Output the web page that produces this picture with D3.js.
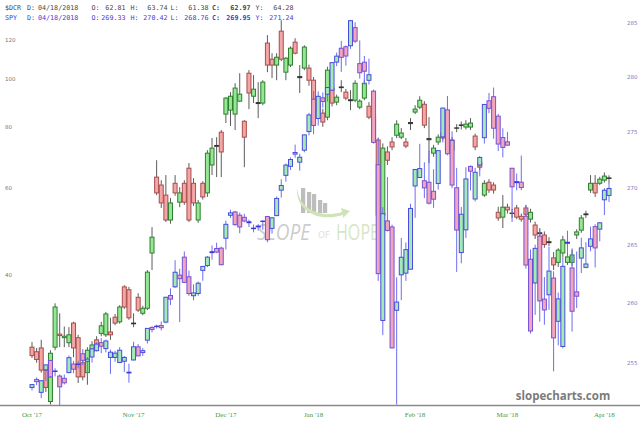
<!DOCTYPE html>
<html>
<head>
<meta charset="utf-8">
<script src="https://cdn.jsdelivr.net/npm/d3@7"></script>
<style>
  body { margin: 0; background: #fff; }
  svg { display: block; }
</style>
</head>
<body>
<svg id="chart" width="640" height="425"></svg>
<script>
const svg = d3.select("#chart");
const width = 640;
const height = 425;

// trading days shown (SPY calendar)
const months = [
  ["2017-10", [17,18,19,20,23,24,25,26,27,30,31]],
  ["2017-11", [1,2,3,6,7,8,9,10,13,14,15,16,17,20,21,22,24,27,28,29,30]],
  ["2017-12", [1,4,5,6,7,8,11,12,13,14,15,18,19,20,21,22,26,27,28,29]],
  ["2018-01", [2,3,4,5,8,9,10,11,12,16,17,18,19,22,23,24,25,26,29,30,31]],
  ["2018-02", [1,2,5,6,7,8,9,12,13,14,15,16,20,21,22,23,26,27,28]],
  ["2018-03", [1,2,5,6,7,8,9,12,13,14,15,16,19,20,21,22,23,26,27,28,29]],
  ["2018-04", [2,3,4,5,6,9,10,11,12,13,16,17,18]]
];
const dates = [];
months.forEach(([m, ds]) => ds.forEach(d => dates.push(m + "-" + String(d).padStart(2, "0"))));

const tickDates = ["2017-10-17","2017-11-16","2017-12-15","2018-01-16","2018-02-15","2018-03-16","2018-04-17"];
const tickLabels = ["Oct '17","Nov '17","Dec '17","Jan '18","Feb '18","Mar '18","Apr '18"];

const leftTicks = [40, 60, 80, 100, 120];
const rightTicks = [255, 260, 265, 270, 275, 280, 285];

// $DCR daily candles
const dcrOpen = [28.5,27.9,28.4,25.6,22.1,28.5,30.3,29.8,29.1,31.9,29.8,26.5,25.3,27.9,29.5,30.4,30.2,30.6,32.8,32.1,
  37.8,37.3,31.8,36.0,33.4,34.2,44.3,63.2,60.9,58.1,51.7,61.4,56.2,61.4,65.9,61.4,51.7,61.4,58.7,66.9,
  73.0,78.0,84.9,86.5,84.9,90.2,82.1,102.8,92.3,89.6,89.4,118.4,109.8,106.8,125.2,103.3,106.8,118.9,101.2,105.3,
  105.3,99.5,90.6,85.3,83.7,95.9,89.8,96.4,94.1,90.8,90.6,87.7,91.5,88.1,83.7,75.2,52.9,71.1,74.5,76.9,
  76.2,74.5,81.2,85.7,87.7,88.9,75.7,70.7,74.5,77.7,75.9,71.7,79.5,80.7,79.9,79.9,76.6,67.7,58.1,61.7,
  60.9,53.6,52.4,54.9,53.4,54.7,52.6,54.7,51.9,50.5,48.7,48.2,46.7,43.3,42.4,44.3,42.4,42.4,48.2,49.3,
  53.0,59.5,61.4,61.4,62.3,62.81];
const dcrHigh = [29.2,28.4,29.5,25.9,28.1,35.0,33.4,31.4,31.3,32.1,30.2,27.1,28.5,29.3,30.0,32.1,33.6,32.7,33.3,34.7,
  38.1,37.8,33.4,36.7,34.6,40.9,50.0,68.4,62.3,63.8,57.3,63.8,60.3,62.3,67.5,62.9,56.8,62.0,71.7,75.9,
  76.2,78.8,91.9,94.1,98.1,102.8,82.5,104.3,101.9,98.6,99.5,122.9,112.9,112.9,131.8,110.8,116.6,121.1,106.8,117.2,
  107.0,101.0,92.0,87.0,106.0,98.0,93.0,99.5,95.5,95.0,99.5,91.0,99.8,89.8,84.5,76.0,74.0,73.0,76.2,82.5,
  79.5,75.9,83.3,88.5,92.3,90.2,83.7,73.5,77.2,78.8,77.0,76.2,81.0,82.0,82.5,83.3,77.5,69.0,62.3,62.6,
  61.7,55.0,58.1,55.8,54.5,55.5,53.3,55.5,54.5,51.3,49.8,49.0,47.7,44.5,45.3,48.0,44.3,45.0,49.5,52.9,
  54.0,63.8,63.8,63.3,64.6,63.74];
const dcrLow = [27.1,26.5,25.3,23.1,21.8,28.1,28.5,28.5,28.5,27.2,24.1,24.4,23.9,27.5,28.1,30.0,29.9,29.5,31.6,31.8,
  34.1,32.4,31.3,33.6,33.1,33.9,40.9,58.1,54.7,51.2,50.8,57.9,54.9,55.5,51.2,55.2,51.0,56.9,57.6,63.8,
  63.2,63.2,81.4,80.3,78.8,89.8,66.2,86.9,89.4,83.3,88.5,103.3,100.5,99.5,108.8,99.5,105.8,112.3,93.7,104.3,
  97.0,88.0,84.0,80.0,82.5,88.0,88.5,94.1,90.6,86.5,89.8,86.9,90.6,82.9,74.0,51.5,50.5,66.9,71.7,75.9,
  75.5,72.4,78.8,84.9,86.9,79.5,67.5,69.5,73.5,75.2,70.7,70.4,78.0,79.0,79.0,78.8,71.7,65.3,57.6,58.7,
  58.5,51.5,49.8,53.3,52.2,51.9,51.3,52.4,51.1,47.3,47.7,45.4,45.8,40.9,41.5,43.5,41.9,41.7,47.3,48.7,
  52.2,58.7,57.6,60.9,61.6,61.38];
const dcrClose = [27.4,26.9,25.6,23.6,27.7,34.4,30.1,30.0,30.2,28.4,24.8,24.8,28.1,28.8,28.5,31.5,33.3,30.2,31.9,34.4,
  34.4,32.7,31.9,33.9,34.2,40.5,47.7,58.7,56.0,51.7,56.0,58.7,58.7,56.2,51.7,56.0,56.0,57.6,70.7,72.4,
  73.3,71.1,91.5,92.3,95.9,93.2,76.2,93.7,95.4,89.2,98.6,106.8,106.8,110.8,109.8,110.3,115.6,112.9,100.7,116.2,
  99.5,90.6,85.7,81.8,104.3,89.4,91.9,96.1,91.5,90.4,98.1,90.2,98.1,83.7,75.2,52.9,72.4,68.4,72.8,81.0,
  77.7,73.1,81.6,86.9,90.6,80.6,75.3,72.4,76.2,75.9,71.7,75.2,79.6,80.5,81.0,81.4,72.8,66.2,61.4,59.5,
  59.5,52.2,54.9,54.2,53.3,52.4,51.9,53.1,53.6,48.2,48.5,46.1,46.5,41.9,44.9,47.1,43.5,43.9,48.9,52.2,
  53.2,61.4,58.7,62.6,63.5,62.97];

// SPY daily candles
const spyOpen = [252.93,253.60,252.53,254.40,255.18,254.30,253.88,253.69,254.17,254.88,254.88,255.74,255.11,255.47,256.00,256.67,256.17,255.43,255.43,255.01,
  255.11,254.20,255.22,256.32,255.84,256.88,257.95,258.02,258.11,258.40,260.66,261.40,262.40,263.95,262.26,260.64,260.83,262.81,263.22,264.34,
  264.70,264.73,265.59,267.59,267.88,267.60,267.41,267.02,266.47,266.65,267.08,267.48,266.44,267.56,269.80,271.11,271.91,273.00,272.28,273.35,
  275.02,277.95,276.20,278.07,278.40,278.77,281.34,282.62,282.76,282.85,284.53,281.20,281.33,279.67,278.68,272.05,258.54,267.10,266.57,259.40,
  262.43,262.57,262.91,270.17,270.92,270.63,270.50,269.70,270.39,274.54,276.98,274.22,270.01,264.35,266.32,271.90,269.02,272.03,274.47,277.80,
  278.17,276.41,274.48,274.10,271.74,270.46,270.50,267.51,263.77,261.73,265.77,260.35,260.72,262.15,258.47,256.35,265.15,263.02,260.97,263.87,
  263.07,264.89,266.60,266.38,268.95,269.33];
const spyHigh = [253.22,253.76,253.53,254.84,255.21,254.53,254.01,254.00,255.59,255.14,255.14,256.13,255.45,256.20,256.70,257.05,256.92,256.09,255.99,256.29,
  255.55,254.91,256.74,256.55,256.22,257.90,258.05,258.18,258.45,260.54,261.27,263.69,262.95,264.44,262.79,261.62,261.86,263.16,264.04,264.96,
  265.20,264.86,267.12,268.07,267.98,267.83,267.72,267.20,266.78,266.81,267.15,267.50,267.41,269.24,270.76,272.16,272.70,273.85,273.02,274.72,
  276.71,278.69,278.65,278.56,279.01,281.29,282.22,283.30,282.87,285.23,285.03,283.34,281.90,281.66,278.83,274.45,268.30,270.96,266.77,262.21,
  265.61,265.22,268.60,271.64,273.92,272.27,273.32,271.65,273.31,277.17,278.24,275.04,271.77,268.32,271.83,271.99,271.78,272.84,277.47,278.51,
  279.01,276.62,275.31,274.99,271.74,271.27,272.87,268.47,264.62,265.03,266.37,262.24,264.86,262.73,260.91,263.96,266.24,264.71,264.44,265.64,
  265.24,266.60,266.80,267.00,269.98,270.42];
const spyLow = [252.68,253.13,252.05,253.47,253.72,253.85,251.44,253.18,254.11,254.11,254.51,254.77,253.89,255.00,255.92,255.79,255.85,254.06,255.07,254.97,
  254.22,253.33,255.19,255.53,255.56,256.60,257.54,257.86,257.70,258.30,259.84,261.31,258.40,261.72,260.63,260.25,260.63,261.92,263.09,263.73,
  264.29,263.24,264.61,267.35,266.68,266.02,266.98,266.57,266.10,266.24,266.32,265.24,266.00,267.56,269.14,270.55,271.58,272.68,271.52,273.16,
  274.68,274.78,275.57,277.18,277.74,278.71,280.97,280.44,281.01,282.56,283.10,279.82,279.28,279.28,274.01,261.91,257.30,266.18,256.19,251.52,
  260.26,261.91,262.90,267.37,270.87,269.10,268.54,268.24,269.85,274.04,272.89,269.97,262.68,263.42,265.62,269.78,268.80,271.02,273.94,276.68,
  274.37,273.27,272.70,273.74,267.00,269.78,269.79,262.96,257.43,259.01,258.44,258.18,259.44,254.27,256.44,256.20,263.92,257.60,259.59,262.58,
  262.99,264.46,263.06,265.32,267.60,268.76];
const spyClose = [253.17,253.42,253.49,254.81,253.81,254.26,252.99,253.32,255.41,254.45,254.85,255.19,255.29,256.15,256.55,256.37,256.81,255.87,255.79,256.03,
  255.43,254.14,256.32,255.56,256.00,257.87,257.77,258.06,257.93,260.51,260.35,262.65,262.10,261.78,260.83,260.88,261.71,263.15,263.95,264.42,
  264.39,263.30,266.80,267.80,266.77,266.57,267.09,266.94,266.42,266.58,267.07,265.46,267.37,269.07,270.21,272.02,272.52,273.14,272.72,274.72,
  276.52,275.57,278.21,277.74,279.01,281.29,281.89,281.78,281.90,285.18,283.28,280.36,280.50,280.18,274.05,262.53,267.73,266.27,256.23,260.10,
  263.94,264.60,268.19,271.63,271.71,270.00,268.65,269.00,273.31,277.14,273.03,270.25,266.30,267.68,270.79,271.48,271.38,272.70,277.47,277.12,
  275.32,273.90,273.60,273.80,270.09,270.55,270.03,263.27,257.65,264.71,260.20,259.43,262.75,257.07,260.37,263.16,265.24,259.32,260.60,264.75,
  263.36,265.53,264.75,266.93,269.79,269.95];

const x = d3.scalePoint().domain(dates).range([32, 609]);
const yL = d3.scaleLog().domain([40, 120]).range([274.8, 40.2]);
const yR = d3.scaleLog().domain([255, 285]).range([362.6, 22.6]);

// watermark
const wm = svg.append("g").attr("class", "watermark");
const bars = [[301, 188], [307, 192], [312, 194], [318, 200], [323, 203]];
wm.selectAll("rect").data(bars).join("rect")
  .attr("x", d => d[0]).attr("y", d => d[1])
  .attr("width", 4.2).attr("height", d => 213 - d[1])
  .attr("fill", "#bdbdbd");
wm.append("path")
  .attr("d", "M297,187 C298,207 318,219 342,212 L341,208 L350,211 L343,218 L343,215 C317,223 295,210 297,187 Z")
  .attr("fill", "#cfe3b9");
wm.append("text").attr("x", 257).attr("y", 240)
  .attr("font-family", "Open Sans, sans-serif").attr("font-size", 21).attr("font-style", "italic")
  .attr("textLength", 53).attr("lengthAdjust", "spacingAndGlyphs")
  .attr("fill", "#cccccc").text("SLOPE");
wm.append("text").attr("x", 318).attr("y", 238)
  .attr("font-family", "Open Sans, sans-serif").attr("font-size", 9)
  .attr("fill", "#dddddd").text("OF");
wm.append("text").attr("x", 336).attr("y", 240)
  .attr("font-family", "Open Sans, sans-serif").attr("font-size", 21)
  .attr("textLength", 43).attr("lengthAdjust", "spacingAndGlyphs")
  .attr("fill", "#d6e6c6").text("HOPE");

// axes
svg.append("line").attr("x1", 0).attr("x2", width).attr("y1", 405.5).attr("y2", 405.5)
  .attr("stroke", "#8a8a8a").attr("stroke-width", 1.3);

svg.append("g").selectAll("text").data(tickDates).join("text")
  .attr("x", (d, i) => x(d)).attr("y", 417)
  .attr("text-anchor", "middle")
  .attr("font-family", "Liberation Serif, serif").attr("font-size", 7)
  .attr("fill", "#3f9a3f")
  .text((d, i) => tickLabels[i]);

svg.append("g").selectAll("text").data(leftTicks).join("text")
  .attr("x", 5).attr("y", d => yL(d)).attr("dy", "0.35em")
  .attr("font-family", "DejaVu Sans, sans-serif").attr("font-size", 5.5)
  .attr("fill", "#777").text(d => d);

svg.append("g").selectAll("text").data(rightTicks).join("text")
  .attr("x", 627).attr("y", d => yR(d)).attr("dy", "0.35em")
  .attr("font-family", "DejaVu Sans, sans-serif").attr("font-size", 5.5)
  .attr("fill", "#7a7ac8").text(d => d);

svg.append("text").attr("x", 563).attr("y", 400).attr("text-anchor", "middle")
  .attr("font-family", "Open Sans, sans-serif").attr("font-weight", "bold").attr("font-size", 11.5)
  .attr("fill", "#7b7b7b").text("slopecharts.com");

// candles
function drawCandles(O, H, L, C, y, st) {
  const data = dates.map((d, i) => ({ d, o: O[i], h: H[i], l: L[i], c: C[i] }));
  const g = svg.append("g");
  g.selectAll("line").data(data).join("line")
    .attr("x1", d => x(d.d)).attr("x2", d => x(d.d))
    .attr("y1", d => y(d.h)).attr("y2", d => y(d.l))
    .attr("stroke", st.wick).attr("stroke-width", 1);
  g.selectAll("rect").data(data).join("rect")
    .attr("x", d => x(d.d) - 2)
    .attr("y", d => y(Math.max(d.o, d.c)))
    .attr("width", 4)
    .attr("height", d => Math.max(0.4, Math.abs(y(d.o) - y(d.c))))
    .attr("fill", d => d.c >= d.o ? st.upFill : st.downFill)
    .attr("stroke", d => Math.abs(y(d.o) - y(d.c)) < 1.2 ? st.doji : (d.c >= d.o ? st.upStroke : st.downStroke))
    .attr("stroke-width", 1);
}

drawCandles(dcrOpen, dcrHigh, dcrLow, dcrClose, yL, {
  wick: "#5c5c5c", upFill: "#95e695", downFill: "#f4a5a5",
  upStroke: "#2f7f2f", downStroke: "#a84d4d", doji: "#333"
});
drawCandles(spyOpen, spyHigh, spyLow, spyClose, yR, {
  wick: "#6d6df2", upFill: "#a2ecb4", downFill: "#f3a5bc",
  upStroke: "#4a4ae0", downStroke: "#7452d6", doji: "#3a3ad8"
});

// header
const header = svg.append("g")
  .attr("font-family", "DejaVu Sans Mono, monospace").attr("font-size", 6.7);
const rows = [
  { y: 9.5, color: "#444", sym: "$DCR", vals: ["62.81", "63.74", "61.38", "62.97", "64.28"] },
  { y: 19.5, color: "#3b3bd0", sym: "SPY", vals: ["269.33", "270.42", "268.76", "269.95", "271.24"] }
];
const fieldNames = ["O:", "H:", "L:", "C:", "Y:"];
const fieldX = [91.5, 130.5, 170.5, 212, 255.5];
const valueEnd = [125.5, 167.5, 208.5, 250.5, 293.5];
rows.forEach(r => {
  header.append("text").attr("x", 5).attr("y", r.y).attr("fill", r.color).text(r.sym);
  header.append("text").attr("x", 27).attr("y", r.y).attr("fill", r.color).text("D:");
  header.append("text").attr("x", 38).attr("y", r.y).attr("fill", r.color).text("04/18/2018");
  fieldNames.forEach((f, i) => {
    header.append("text").attr("x", fieldX[i]).attr("y", r.y).attr("fill", r.color)
      .attr("font-weight", i === 3 ? "bold" : null).text(f);
    header.append("text").attr("x", valueEnd[i]).attr("y", r.y).attr("fill", r.color)
      .attr("text-anchor", "end").attr("font-weight", i === 3 ? "bold" : null).text(r.vals[i]);
  });
});
</script>
</body>
</html>
